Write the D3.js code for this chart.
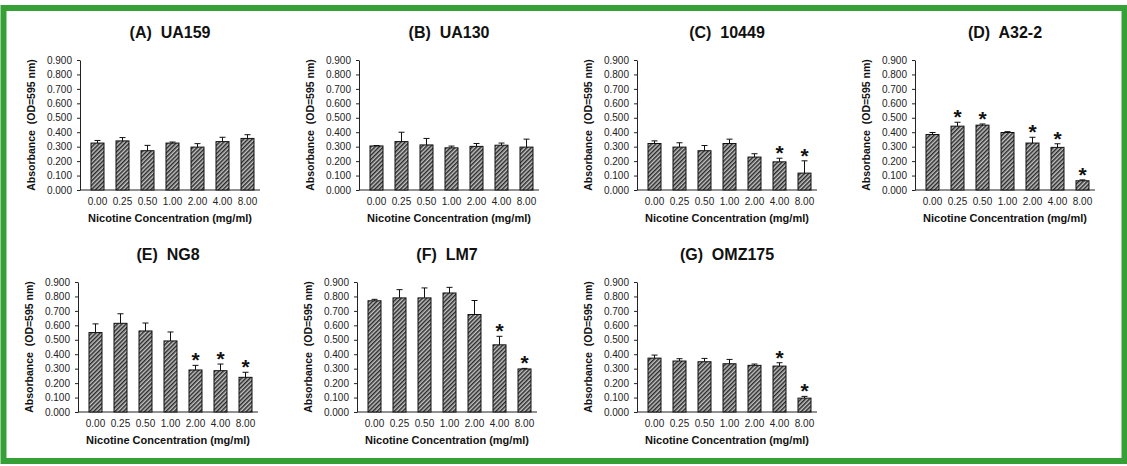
<!DOCTYPE html>
<html>
<head>
<meta charset="utf-8">
<script src="https://cdn.jsdelivr.net/npm/d3@7"></script>
<style>
  body { margin: 0; background: #fff; }
  text { font-family: Arial, "Liberation Sans", sans-serif; }
</style>
</head>
<body>
<div id="chart"></div>
<script>
// x categories and y ticks shared by every panel
const concentrations = ["0.00", "0.25", "0.50", "1.00", "2.00", "4.00", "8.00"];
const yTicks = [0, 0.1, 0.2, 0.3, 0.4, 0.5, 0.6, 0.7, 0.8, 0.9];

const titles = ["(A)  UA159", "(B)  UA130", "(C)  10449", "(D)  A32-2", "(E)  NG8", "(F)  LM7", "(G)  OMZ175"];

// mean absorbance and SD (upper error bar)
const ua159Mean = [0.325, 0.340, 0.272, 0.325, 0.297, 0.335, 0.357];
const ua159Err = [0.018, 0.023, 0.037, 0.007, 0.024, 0.030, 0.026];
const ua130Mean = [0.305, 0.335, 0.312, 0.292, 0.302, 0.310, 0.297];
const ua130Err = [0.003, 0.065, 0.045, 0.012, 0.020, 0.015, 0.055];
const s10449Mean = [0.322, 0.297, 0.272, 0.322, 0.228, 0.195, 0.117];
const s10449Err = [0.018, 0.030, 0.036, 0.030, 0.023, 0.025, 0.085];
const a322Mean = [0.384, 0.442, 0.449, 0.398, 0.325, 0.295, 0.064];
const a322Err = [0.014, 0.027, 0.008, 0.006, 0.040, 0.025, 0.006];
const ng8Mean = [0.550, 0.614, 0.561, 0.492, 0.291, 0.286, 0.240];
const ng8Err = [0.060, 0.066, 0.055, 0.062, 0.032, 0.046, 0.035];
const lm7Mean = [0.770, 0.790, 0.790, 0.824, 0.675, 0.465, 0.298];
const lm7Err = [0.010, 0.057, 0.069, 0.039, 0.097, 0.059, 0.004];
const omz175Mean = [0.373, 0.353, 0.348, 0.334, 0.323, 0.318, 0.096];
const omz175Err = [0.021, 0.016, 0.023, 0.030, 0.009, 0.023, 0.012];

// which concentrations carry a significance star
const ua159Sig = [];
const ua130Sig = [];
const s10449Sig = ["4.00", "8.00"];
const a322Sig = ["0.25", "0.50", "2.00", "4.00", "8.00"];
const ng8Sig = ["2.00", "4.00", "8.00"];
const lm7Sig = ["4.00", "8.00"];
const omz175Sig = ["4.00", "8.00"];

const panels = [
  { title: titles[0], mean: ua159Mean, err: ua159Err, sig: ua159Sig },
  { title: titles[1], mean: ua130Mean, err: ua130Err, sig: ua130Sig },
  { title: titles[2], mean: s10449Mean, err: s10449Err, sig: s10449Sig },
  { title: titles[3], mean: a322Mean, err: a322Err, sig: a322Sig },
  { title: titles[4], mean: ng8Mean, err: ng8Err, sig: ng8Sig },
  { title: titles[5], mean: lm7Mean, err: lm7Err, sig: lm7Sig },
  { title: titles[6], mean: omz175Mean, err: omz175Err, sig: omz175Sig }
];

// layout: origin of each plot area (y axis position, top of 0.900 tick)
const origins = [[80, 60], [359, 60], [637, 60], [915, 60], [78, 282], [357, 282], [637, 282]];
const plotW = 180, plotH = 130;
const font = "Arial, 'Liberation Sans', sans-serif";

const svg = d3.select("#chart").append("svg")
  .attr("width", 1127)
  .attr("height", 466);

// hatch fill for the bars
const pat = svg.append("defs").append("pattern")
  .attr("id", "hatch")
  .attr("patternUnits", "userSpaceOnUse")
  .attr("width", 3)
  .attr("height", 3)
  .attr("patternTransform", "rotate(45)");
pat.append("rect").attr("width", 3).attr("height", 3).attr("fill", "#c4c4c4");
pat.append("line")
  .attr("x1", 0.75).attr("y1", 0).attr("x2", 0.75).attr("y2", 3)
  .attr("stroke", "#2a2a2a").attr("stroke-width", 1.5);

// green frame
svg.append("rect")
  .attr("x", 3.5).attr("y", 8)
  .attr("width", 1121).attr("height", 453)
  .attr("fill", "#fff")
  .attr("stroke", "#35a035")
  .attr("stroke-width", 6);

const y = d3.scaleLinear().domain([0, 0.9]).range([plotH, 0]);
const x = d3.scaleBand()
  .domain(concentrations)
  .range([5, plotW])
  .paddingInner(0.48)
  .paddingOuter(0.24);

panels.forEach((p, i) => {
  const g = svg.append("g")
    .attr("transform", `translate(${origins[i][0]},${origins[i][1]})`);

  const rows = concentrations.map((c, j) => ({ c, mean: p.mean[j], err: p.err[j] }));

  // title
  g.append("text")
    .attr("x", plotW / 2)
    .attr("y", -22)
    .attr("text-anchor", "middle")
    .attr("font-size", 16)
    .attr("font-weight", "bold")
    .attr("fill", "#111")
    .style("white-space", "pre")
    .text(p.title);

  // y axis
  g.append("g")
    .call(d3.axisLeft(y)
      .tickValues(yTicks)
      .tickSize(3)
      .tickSizeOuter(0)
      .tickPadding(5)
      .tickFormat(d3.format(".3f")))
    .call(a => a.selectAll("text").attr("font-size", 10).attr("fill", "#222").style("font-family", font))
    .call(a => a.selectAll("line,path").attr("stroke", "#222"));

  // x axis: labels only, plus a baseline across the whole plot
  g.append("g")
    .attr("transform", `translate(0,${plotH})`)
    .call(d3.axisBottom(x).tickSize(0).tickPadding(8))
    .call(a => a.select(".domain").remove())
    .call(a => a.selectAll("text").attr("font-size", 10).attr("fill", "#222").style("font-family", font));
  g.append("line")
    .attr("x1", 0).attr("x2", plotW)
    .attr("y1", plotH).attr("y2", plotH)
    .attr("stroke", "#222");

  // bars
  g.selectAll(".bar")
    .data(rows)
    .join("rect")
    .attr("class", "bar")
    .attr("x", d => x(d.c))
    .attr("y", d => y(d.mean))
    .attr("width", x.bandwidth())
    .attr("height", d => plotH - y(d.mean))
    .attr("fill", "url(#hatch)")
    .attr("stroke", "#111")
    .attr("stroke-width", 1);

  // error bars (upper half only)
  const cx = d => x(d.c) + x.bandwidth() / 2;
  g.selectAll(".err")
    .data(rows)
    .join("line")
    .attr("class", "err")
    .attr("x1", cx).attr("x2", cx)
    .attr("y1", d => y(d.mean))
    .attr("y2", d => y(d.mean + d.err))
    .attr("stroke", "#111");
  g.selectAll(".cap")
    .data(rows)
    .join("line")
    .attr("class", "cap")
    .attr("x1", d => cx(d) - 3).attr("x2", d => cx(d) + 3)
    .attr("y1", d => y(d.mean + d.err))
    .attr("y2", d => y(d.mean + d.err))
    .attr("stroke", "#111");

  // significance stars
  g.selectAll(".star")
    .data(rows.filter(d => p.sig.includes(d.c)))
    .join("text")
    .attr("class", "star")
    .attr("x", cx)
    .attr("y", d => y(d.mean + d.err) + 2)
    .attr("text-anchor", "middle")
    .attr("font-size", 21)
    .attr("font-weight", "bold")
    .attr("fill", "#111")
    .text("*");

  // axis titles
  g.append("text")
    .attr("x", plotW / 2)
    .attr("y", plotH + 32)
    .attr("text-anchor", "middle")
    .attr("font-size", 11)
    .attr("font-weight", "bold")
    .attr("fill", "#111")
    .text("Nicotine Concentration (mg/ml)");

  g.append("text")
    .attr("transform", `translate(-45,${plotH / 2}) rotate(-90)`)
    .attr("text-anchor", "middle")
    .attr("font-size", 10.5)
    .attr("font-weight", "bold")
    .attr("fill", "#111")
    .style("white-space", "pre")
    .text("Absorbance  (OD=595 nm)");
});
</script>
</body>
</html>
